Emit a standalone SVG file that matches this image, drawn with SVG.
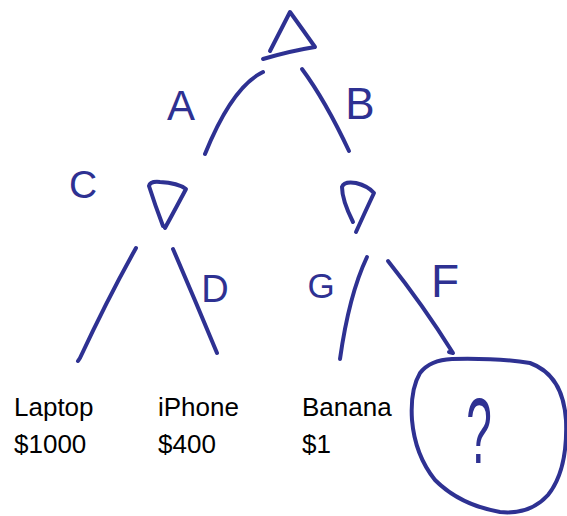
<svg xmlns="http://www.w3.org/2000/svg" width="567" height="516" viewBox="0 0 567 516">
  <style>
    .ink { fill: none; stroke: #2e3192; stroke-width: 4; stroke-linecap: round; stroke-linejoin: round; }
    .mark { fill: #2e3192; font-family: "Liberation Sans", Arial, sans-serif; text-anchor: middle; }
    .item { fill: #000; font-family: "Liberation Sans", Arial, sans-serif; font-size: 26px; }
  </style>
  <rect width="567" height="516" fill="#fff"/>

  <!-- decision nodes -->
  <g id="root">
    <path class="ink" d="M270,51 L290,12 Q303,30 315,47 Q290,51 263,59"/>
  </g>
  <g id="node-left">
    <path class="ink" d="M163,226 Q155,205 149,186 Q150,181 160,182 Q178,183 186,189 Q177,206 165,228"/>
  </g>
  <g id="node-right">
    <path class="ink" d="M353,222 Q342,200 342,187 Q344,181 356,183 Q368,186 374,193 Q366,210 356,232"/>
  </g>

  <!-- branches with their labels -->
  <g id="connectors">
    <path class="ink" d="M263,72 Q232,87 205,154"/>
    <path class="ink" d="M302,69 Q325,100 349,151"/>
    <path class="ink" d="M136,248 Q108,298 80,358 L78,361"/>
    <path class="ink" d="M173,249 Q195,300 217,353"/>
    <path class="ink" d="M367,257 Q349,295 340,359"/>
    <path class="ink" d="M388,261 Q423,305 453,353 L449,352"/>
    <text class="mark" x="181" y="120" font-size="42">A</text>
    <text class="mark" x="360" y="119" font-size="44">B</text>
    <text class="mark" x="83" y="198" font-size="39">C</text>
    <text class="mark" x="215" y="302" font-size="38">D</text>
    <text class="mark" x="321" y="298" font-size="35">G</text>
    <text class="mark" x="445" y="297" font-size="46">F</text>
  </g>

  <!-- leaves -->
  <g id="leaf-laptop">
    <text class="item" x="14" y="416">Laptop</text>
    <text class="item" x="14" y="453">$1000</text>
  </g>
  <g id="leaf-iphone">
    <text class="item" x="158" y="416">iPhone</text>
    <text class="item" x="158" y="453">$400</text>
  </g>
  <g id="leaf-banana">
    <text class="item" x="302" y="416">Banana</text>
    <text class="item" x="302" y="453">$1</text>
  </g>
  <g id="leaf-unknown">
    <path class="ink" d="M420,373 Q430,360 452,359 Q500,358 530,363 Q563,375 566,420 Q568,470 548,495 Q530,515 500,512 Q460,505 435,480 Q415,455 412,420 Q410,390 420,373"/>
    <text class="mark" x="0" y="0" font-size="92" transform="translate(479,463) scale(0.5,1)">?</text>
  </g>
</svg>
